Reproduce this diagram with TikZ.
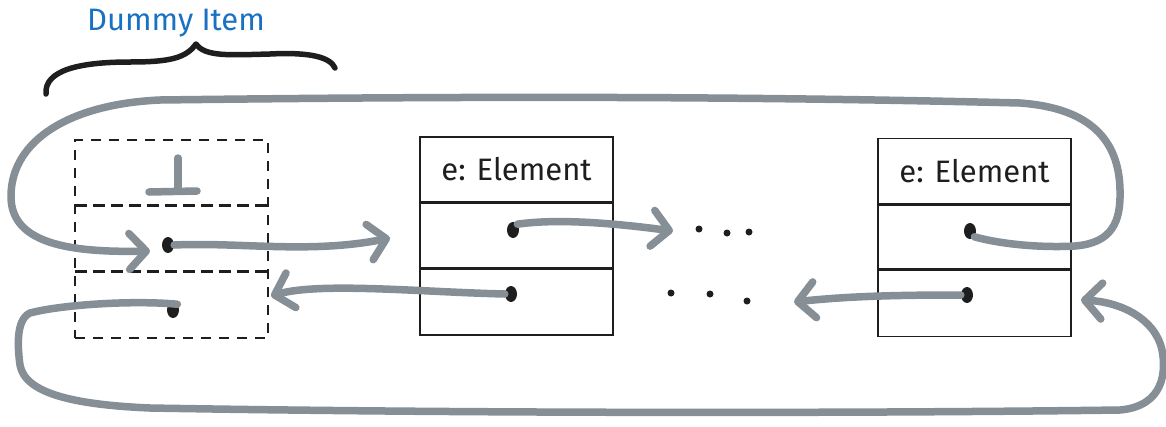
\documentclass[tikz,border=0pt]{standalone}
\usepackage{fontspec}
\setmainfont{Fira Sans}
\usetikzlibrary{arrows.meta,shapes.geometric}
\definecolor{linkgray}{HTML}{868E96}
\definecolor{labelblue}{HTML}{1971C2}
\definecolor{ink}{HTML}{1E1E1E}
\begin{document}
\begin{tikzpicture}[x=1pt,y=-1pt,
  link/.style={draw=linkgray,line width=7.5pt,line cap=round,line join=round},
  linkarrow/.style={link,-{Straight Barb[length=17pt,width=36pt,round]}},
  frame/.style={draw=ink,line width=1.6pt,minimum width=193pt,minimum height=198pt,inner sep=0pt},
  dframe/.style={frame,dash pattern=on 10pt off 8pt},
  topcell/.style={minimum width=193pt,minimum height=66pt,inner sep=0pt,anchor=north,font=\fontsize{31}{32}\selectfont,text=ink},
  midcell/.style={minimum width=193pt,minimum height=65pt,inner sep=0pt,anchor=north},
  botcell/.style={minimum width=193pt,minimum height=67pt,inner sep=0pt,anchor=north},
  divider/.style={draw=ink,line width=3pt},
  ddivider/.style={divider,dash pattern=on 12pt off 6pt},
  dot/.style={ellipse,fill=ink,inner sep=0pt,minimum width=12pt,minimum height=16pt},
  etc/.style={circle,fill=ink,inner sep=0pt,minimum size=7pt},
  brace/.style={draw=ink,line width=5.5pt,line cap=round,line join=round}
]
\useasboundingbox (0,0) rectangle (1166,426);

% ---- dummy item (dashed) ----
\node[dframe] (d) at (171.5,239) {};
\node[topcell] (dtop) at (d.north) {};
\node[midcell] (dmid) at (dtop.south) {};
\node[botcell] (dbot) at (dmid.south) {};
\draw[ddivider] (dtop.south west) -- (dtop.south east);
\draw[ddivider] (dmid.south west) -- (dmid.south east);
% bottom symbol
\draw[link] (178,158) -- (178,190);
\draw[link] (149,192) -- (197,191);
\node[dot] (dn) at (168,245) {};
\node[dot] (dp) at (173,310) {};

% ---- first element ----
\node[frame] (a) at (516.5,236) {};
\node[topcell] (atop) at (a.north) {e: Element};
\node[midcell] (amid) at (atop.south) {};
\node[botcell] (abot) at (amid.south) {};
\draw[divider] (atop.south west) -- (atop.south east);
\draw[divider] (amid.south west) -- (amid.south east);
\node[dot] (an) at (513,230) {};
\node[dot] (ap) at (511,294) {};

% ---- last element ----
\node[frame] (b) at (974.5,237.5) {};
\node[topcell] (btop) at (b.north) {e: Element};
\node[midcell] (bmid) at (btop.south) {};
\node[botcell] (bbot) at (bmid.south) {};
\draw[divider] (btop.south west) -- (btop.south east);
\draw[divider] (bmid.south west) -- (bmid.south east);
\node[dot] (bn) at (970,231) {};
\node[dot] (bp) at (967,295) {};

% ---- elided elements ----
\node[etc] (n1) at (699,229) {};
\node[etc] (n2) at (727,233) {};
\node[etc] (n3) at (749,232) {};
\node[etc] (p1) at (671,293) {};
\node[etc] (p2) at (710,294) {};
\node[etc] (p3) at (747,301) {};

% ---- label and brace ----
\node[text=labelblue,font=\fontsize{31}{32}\selectfont] (lbl) at (176,23) {Dummy Item};
\draw[brace] (46,94) .. controls (44,70) and (80,62) .. (130,62)
  .. controls (170,62) and (186,58) .. (196,44)
  .. controls (205,57) and (230,55) .. (270,54)
  .. controls (310,52) and (330,57) .. (335,68);

% ---- connectors ----
% last next -> dummy (over the top)
\coordinate (loopTop) at (150,251);
\draw[linkarrow] (bn.south east) .. controls (1000,244) and (1040,248) .. (1075,246)
  .. controls (1112,243) and (1121,222) .. (1120,190)
  .. controls (1119,140) and (1090,108) .. (1020,103)
  .. controls (700,95) and (400,97) .. (160,100)
  .. controls (70,104) and (12,140) .. (11,195)
  .. controls (10,240) and (60,253) .. (loopTop);

\coordinate (toA) at (390,238);
\draw[linkarrow] (dn.east) .. controls (240,242) and (310,254) .. (toA);

\coordinate (toN) at (673,231);
\draw[linkarrow] (an.north east) .. controls (560,218) and (620,224) .. (toN);

\coordinate (toD) at (271,296);
\draw[linkarrow] (ap.west) .. controls (420,292) and (320,282) .. (toD);

\coordinate (toP) at (794,302);
\draw[linkarrow] (bp.west) .. controls (900,295) and (850,296) .. (toP);

% dummy prev -> last (under the bottom)
\coordinate (loopBot) at (1081,300);
\draw[linkarrow] (dp.north east) .. controls (130,300) and (60,305) .. (30,313)
  .. controls (15,320) and (18,350) .. (20,365)
  .. controls (25,395) and (80,405) .. (150,408)
  .. controls (500,414) and (900,413) .. (1120,410)
  .. controls (1165,406) and (1166,370) .. (1162,350)
  .. controls (1155,318) and (1120,302) .. (loopBot);
\end{tikzpicture}
\end{document}
